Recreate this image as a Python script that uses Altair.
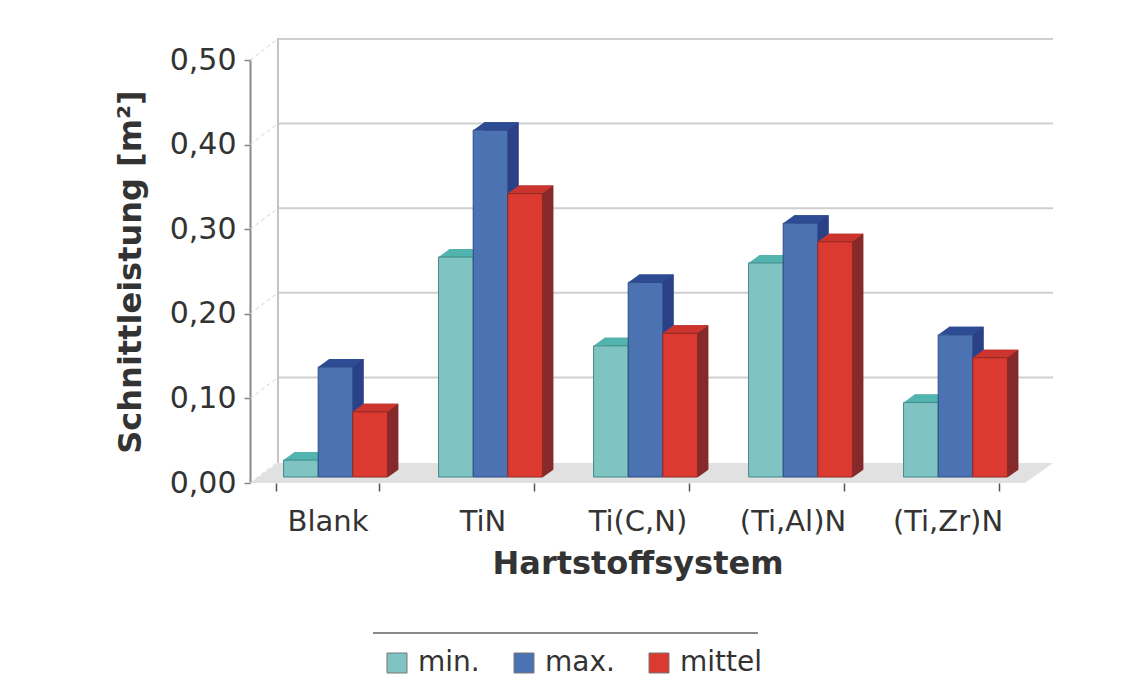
import altair as alt
import pandas as pd

# ---------------- data ----------------
categories = ["Blank", "TiN", "Ti(C,N)", "(Ti,Al)N", "(Ti,Zr)N"]
series_names = ["min.", "max.", "mittel"]
min_values = [0.02, 0.26, 0.155, 0.253, 0.088]
max_values = [0.13, 0.41, 0.23, 0.30, 0.168]
mittel_values = [0.077, 0.335, 0.17, 0.278, 0.141]
y_ticks = [0.0, 0.1, 0.2, 0.3, 0.4, 0.5]

front_colors = ["#80c3c3", "#4b73b2", "#dc3a30"]
top_colors = ["#52b4ae", "#2e4c93", "#cc352d"]
side_colors = ["#3d8e8a", "#2a4188", "#86292a"]
edge_colors = ["#3f8a88", "#2d4a88", "#8e2a26"]

rows = []
for name, vals in zip(series_names, [min_values, max_values, mittel_values]):
    for c, v in zip(categories, vals):
        rows.append({"cat": c, "series": name, "value": v, "base": 0.0})
df = pd.DataFrame(rows)
grid_df = pd.DataFrame({"value": y_ticks[1:]})
conn_df = pd.DataFrame({"value": y_ticks})
edge_df = pd.DataFrame({"value": [0.5], "base": [0.0]})
one = pd.DataFrame({"k": [0]})

# ---------------- geometry (styles) ----------------
W, H = 775, 423
PX, PY = 8, 6        # bar plane shift
DX, DY = 11, 8       # bar depth
WX, WY = 28, 21      # wall shift
FLOOR = "#e1e1e1"
band = (W / 5) * (1 - 0.33)
bw = band / 3


def path(points, r):
    return "M" + " L".join(f"{x / r:.4f} {y / r:.4f}" for x, y in points) + " Z"


R_TOP = 30
top_path = path([(-bw / 2, 0), (bw / 2, 0), (bw / 2 + DX, -DY), (-bw / 2 + DX, -DY)], R_TOP)
cover_path = path([(bw / 2, 0.5), (bw / 2 + DX + 1, 0.5), (bw / 2 + DX + 1, -DY)], R_TOP)
R_FLOOR = 405
floor_path = path([(-W / 2 - 14, 10), (W / 2 - 14, 10), (W / 2 + 14, -10), (-W / 2 + 14, -10)], R_FLOOR)

yscale = alt.Scale(domain=[0, 0.5], nice=False, zero=True)
xscale = alt.Scale(paddingInner=0.33, paddingOuter=0.165)

xaxis = alt.Axis(title="Hartstoffsystem", labelAngle=0, labelFontSize=29, labelColor="#333",
                 labelPadding=16, tickBand="extent", tickSize=8, tickColor="#555",
                 tickWidth=1.5, domain=False, titleFontSize=32, titleFontWeight="bold",
                 titleColor="#333", titlePadding=12, grid=False)
yaxis = alt.Axis(title="Schnittleistung [m²]", values=y_ticks,
                 labelExpr="replace(format(datum.value, '.2f'), '.', ',')",
                 labelFontSize=30, labelColor="#333", labelPadding=8,
                 tickSize=6, tickColor="#888", tickWidth=1.5,
                 domainColor="#888", domainWidth=2, grid=False,
                 titleFontSize=32, titleFontWeight="bold", titleColor="#333",
                 titlePadding=22)

X = alt.X("cat:N", sort=categories, scale=xscale, axis=xaxis)
Y = alt.Y("value:Q", scale=yscale, axis=yaxis)

floor = alt.Chart(one).mark_point(shape=floor_path, filled=True, size=(2 * R_FLOOR) ** 2,
                                  color=FLOOR, opacity=1, strokeWidth=0).encode(
    x=alt.value(W / 2 + 14), y=alt.value(H - 10))

wall_grid = alt.Chart(grid_df).mark_rule(color="#cfcfcf", strokeWidth=2, yOffset=-WY).encode(
    x=alt.value(WX), x2=alt.value(W + WX), y=Y)

wall_edge = alt.Chart(edge_df).mark_rule(color="#c4c4c4", strokeWidth=2, yOffset=-WY - 1,
                                         y2Offset=-WY + 1).encode(
    x=alt.value(WX), y=Y, y2=alt.Y2("base:Q"))

connectors = alt.Chart(conn_df).mark_rule(color="#d4d4d4", strokeWidth=1, strokeDash=[4, 3],
                                          y2Offset=-WY).encode(
    x=alt.value(0), x2=alt.value(WX), y=Y, y2=alt.Y2("value:Q"))

sides, tops, covers, fronts = [], [], [], []
for i, name in enumerate(series_names):
    shift = PX + (i - 1) * bw
    base = alt.Chart(df).transform_filter(alt.datum.series == name)
    sides.append(base.mark_bar(width=bw, color=side_colors[i], xOffset=shift + DX,
                               yOffset=-PY - DY, y2Offset=-PY).encode(
        x=X, y=Y, y2=alt.Y2("base:Q")))
    tops.append(base.mark_point(shape=top_path, filled=True, size=(2 * R_TOP) ** 2, opacity=1,
                                strokeWidth=0, color=top_colors[i], xOffset=shift,
                                yOffset=-PY).encode(x=X, y=Y))
    covers.append(base.mark_point(shape=cover_path, filled=True, size=(2 * R_TOP) ** 2, opacity=1,
                                  strokeWidth=0, color=FLOOR, xOffset=shift, yOffset=-PY).encode(
        x=X, y=alt.Y("base:Q", scale=yscale, axis=yaxis)))
    fronts.append(base.mark_bar(width=bw, xOffset=shift, yOffset=-PY, y2Offset=-PY,
                                strokeWidth=1, stroke=edge_colors[i]).encode(
        x=X, y=Y, y2=alt.Y2("base:Q"),
        color=alt.Color("series:N", sort=series_names,
                        scale=alt.Scale(domain=series_names, range=front_colors),
                        legend=alt.Legend(title=None, orient="none", legendX=133, legendY=589,
                                          direction="horizontal", symbolType="square",
                                          symbolSize=400, symbolStrokeColor="#777",
                                          symbolStrokeWidth=1, labelFontSize=28,
                                          labelColor="#333", labelOffset=7,
                                          columnPadding=30, padding=0))))

legend_line = alt.Chart(one).mark_rule(color="#8a8a8a", strokeWidth=2).encode(
    x=alt.value(123), x2=alt.value(508), y=alt.value(573))

chart = alt.layer(floor, wall_grid, wall_edge, connectors, *sides, *tops, *covers, *fronts,
                  legend_line).properties(
    width=W, height=H,
    autosize=alt.AutoSizeParams(type="none"),
    padding={"left": 242, "top": 52, "right": 90, "bottom": 202},
    background="white",
).configure(font="DejaVu Sans").configure_view(strokeWidth=0)

chart.save("out.html", embed_options={"renderer": "svg", "actions": False})
